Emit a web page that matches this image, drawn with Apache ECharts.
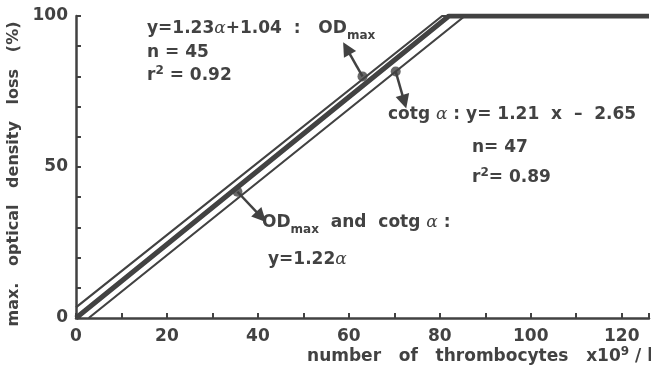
<!DOCTYPE html>
<html>
<head>
<meta charset="utf-8">
<script src="https://cdn.jsdelivr.net/npm/echarts@6/dist/echarts.min.js"></script>
<style>
  html, body { margin: 0; padding: 0; background: #fff; }
  #chart { width: 651px; height: 371px; }
</style>
</head>
<body>
<div id="chart"></div>
<script>
// regression lines (x: thrombocytes, y: % loss)
const upperX = [0, 80.5, 126];
const upperY = [3.5, 100, 100];
const middleX = [0, 82, 126];
const middleY = [0, 100, 100];
const lowerX = [2.8, 85.5, 126];
const lowerY = [0, 100, 100];

// dots on the lines and where their arrows point
const dotX = [63, 70.3, 35.5];
const dotY = [80, 81.6, 41.8];
const arrowToX = [59.5, 72.2, 40.7];
const arrowToY = [89.3, 71.6, 33.5];

const xTicks = [0, 20, 40, 60, 80, 100, 120];
const yTicks = [0, 50, 100];

const ink = '#424242';
const font = 'DejaVu Sans';

const chart = echarts.init(document.getElementById('chart'));

function pairs(xs, ys) {
    return xs.map((x, i) => [x, ys[i]]);
}

const arrows = dotX.map((x, i) => [
    { coord: [x, dotY[i]] },
    { coord: [arrowToX[i], arrowToY[i]] }
]);

const rich = {
    t: { fontFamily: font, fontWeight: 'bold', fontSize: 17, color: ink },
    a: { fontFamily: 'DejaVu Serif', fontStyle: 'italic', fontSize: 17, color: '#777' },
    sub: { fontFamily: font, fontWeight: 'bold', fontSize: 12, color: ink, padding: [13, 0, 0, 0] },
    sup: { fontFamily: font, fontWeight: 'bold', fontSize: 12, color: ink, padding: [0, 0, 10, 0] }
};

function note(x, y, text) {
    return {
        type: 'text',
        x: x,
        y: y,
        style: {
            text: text,
            rich: rich,
            fill: ink,
            font: 'bold 17px "DejaVu Sans"',
            verticalAlign: 'middle'
        }
    };
}

const labelStyle = {
    color: ink,
    fontFamily: font,
    fontWeight: 'bold',
    fontSize: 17
};

const option = {
    animation: false,
    grid: { left: 76, right: 2, top: 16, bottom: 53, outerBoundsMode: 'none', containLabel: false },
    xAxis: {
        type: 'value',
        min: 0,
        max: 126,
        interval: 10,
        axisLine: { lineStyle: { color: ink, width: 2.5 } },
        axisTick: { inside: true, length: 5, lineStyle: { color: ink, width: 2 } },
        splitLine: { show: false },
        axisLabel: Object.assign({}, labelStyle, {
            margin: 10,
            formatter: v => (xTicks.indexOf(v) >= 0 ? String(v) : '')
        })
    },
    yAxis: {
        type: 'value',
        min: 0,
        max: 100,
        interval: 10,
        name: 'max.   optical   density   loss   (%)',
        nameLocation: 'middle',
        nameRotate: 90,
        nameGap: 48,
        nameTextStyle: Object.assign({}, labelStyle, { fontSize: 16, padding: [0, 14, 0, 0] }),
        axisLine: { lineStyle: { color: ink, width: 2.5 } },
        axisTick: { inside: true, length: 5, lineStyle: { color: ink, width: 2 } },
        splitLine: { show: false },
        axisLabel: Object.assign({}, labelStyle, {
            margin: 8,
            formatter: v => (yTicks.indexOf(v) >= 0 ? String(v) : '')
        })
    },
    series: [
        {
            type: 'line',
            data: pairs(upperX, upperY),
            symbol: 'none',
            lineStyle: { color: ink, width: 2.2 }
        },
        {
            type: 'line',
            data: pairs(lowerX, lowerY),
            symbol: 'none',
            lineStyle: { color: ink, width: 2.2 }
        },
        {
            type: 'line',
            data: pairs(middleX, middleY),
            symbol: 'none',
            lineStyle: { color: ink, width: 5 },
            markLine: {
                silent: true,
                symbol: ['none', 'triangle'],
                symbolSize: [14, 14],
                label: { show: false },
                lineStyle: { color: ink, width: 2.5, type: 'solid' },
                data: arrows
            }
        },
        {
            type: 'scatter',
            data: pairs(dotX, dotY),
            symbolSize: 10,
            itemStyle: { color: ink }
        }
    ],
    graphic: [
        note(147, 29, '{t|y=1.23}{a|α}{t|+1.04  :   OD}{sub|max}'),
        note(147, 53, '{t|n = 45}'),
        note(147, 76, '{t|r}{sup|2}{t| = 0.92}'),
        note(388, 115, '{t|cotg }{a|α}{t| : y= 1.21  x  –  2.65}'),
        note(472, 148, '{t|n= 47}'),
        note(472, 178, '{t|r}{sup|2}{t|= 0.89}'),
        note(262, 223, '{t|OD}{sub|max}{t|  and  cotg }{a|α}{t| :}'),
        note(268, 260, '{t|y=1.22}{a|α}'),
        {
            type: 'text',
            right: -2,
            y: 357,
            style: {
                text: '{t|number   of   thrombocytes   x10}{sup|9}{t| / l}',
                rich: rich,
                fill: ink,
                font: 'bold 17px "DejaVu Sans"',
                verticalAlign: 'middle'
            }
        }
    ]
};

chart.setOption(option);
</script>
</body>
</html>
